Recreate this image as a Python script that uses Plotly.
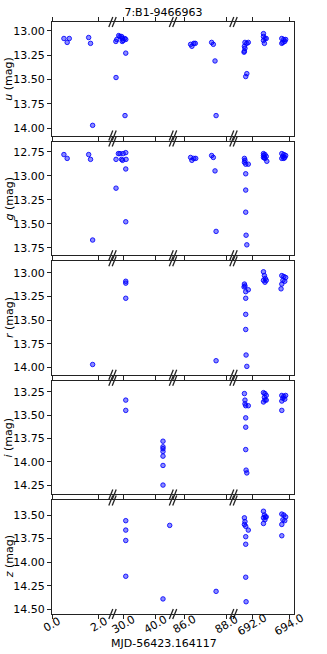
import plotly.graph_objects as go

TITLE = "7:B1-9466963"
XLABEL = "MJD-56423.164117"
BANDS = ["u", "g", "r", "i", "z"]

u_t = [0.50, 0.64, 0.73, 1.56, 1.64, 1.73,
       27.6, 27.9, 28.5, 28.9, 29.4, 29.7, 29.6, 29.9, 30.4, 30.7, 27.66, 30.7, 30.47,
       86.30, 86.36, 86.45, 86.52, 87.29, 87.37, 87.45, 87.50,
       691.60, 691.70, 691.78, 691.57, 691.60, 691.57, 691.55, 691.70, 691.64,
       692.60, 692.60, 692.68, 692.60, 692.75, 692.65,
       693.59, 693.70, 693.80, 693.65, 693.59, 693.75]
u_mag = [13.08, 13.12, 13.08, 13.07, 13.13, 13.97,
         13.11, 13.09, 13.05, 13.06, 13.06, 13.08, 13.11, 13.10, 13.08, 13.09, 13.48, 13.23, 13.87,
         13.14, 13.16, 13.13, 13.13, 13.12, 13.14, 13.31, 13.87,
         13.12, 13.13, 13.12, 13.16, 13.18, 13.21, 13.22, 13.44, 13.47,
         13.03, 13.06, 13.08, 13.10, 13.08, 13.13,
         13.08, 13.09, 13.09, 13.12, 13.13, 13.11]

g_t = [0.50, 0.64, 1.56, 1.64, 1.73,
       27.66, 28.4, 28.9, 29.4, 29.9, 29.7, 30.7, 30.8, 30.7, 27.66, 30.7,
       86.30, 86.36, 86.45, 86.54, 87.29, 87.37, 87.45, 87.50,
       691.57, 691.60, 691.57, 691.64, 691.78, 691.64, 691.64, 691.64, 691.66, 691.70,
       692.60, 692.68, 692.60, 692.75, 692.65, 692.68, 692.78, 692.60,
       693.59, 693.70, 693.80, 693.65, 693.75, 693.59, 693.70]
g_mag = [12.78, 12.82, 12.78, 12.83, 13.67,
         12.83, 12.77, 12.77, 12.83, 12.77, 12.84, 12.76, 12.83, 12.93, 13.13, 13.48,
         12.81, 12.84, 12.82, 12.82, 12.79, 12.81, 12.95, 13.58,
         12.82, 12.84, 12.86, 12.88, 12.88, 12.98, 13.15, 13.38, 13.62, 13.72,
         12.77, 12.78, 12.79, 12.80, 12.81, 12.82, 12.85, 12.81,
         12.77, 12.78, 12.79, 12.80, 12.81, 12.82, 12.82]

r_t = [1.73, 30.7, 30.7, 30.7, 87.50,
       691.57, 691.60, 691.55, 691.64, 691.78, 691.64, 691.64, 691.64, 691.66, 691.70,
       692.60, 692.65, 692.70, 692.60, 692.75, 692.68,
       693.59, 693.70, 693.80, 693.65, 693.75, 693.59, 693.55]
r_mag = [13.97, 13.09, 13.11, 13.27, 13.93,
         13.12, 13.14, 13.15, 13.20, 13.18, 13.27, 13.44, 13.60, 13.87, 13.99,
         12.99, 13.03, 13.06, 13.08, 13.08, 13.10,
         13.03, 13.04, 13.05, 13.08, 13.09, 13.12, 13.17]

i_t = [30.7, 30.7, 42.34, 42.34, 42.34, 42.34, 42.34, 42.34, 42.34,
       691.57, 691.60, 691.60, 691.64, 691.78, 691.64, 691.64, 691.64, 691.66, 691.70,
       692.60, 692.68, 692.75, 692.65, 692.68, 692.60, 692.75,
       693.59, 693.70, 693.80, 693.65, 693.75, 693.59, 693.59]
i_mag = [13.34, 13.45, 13.78, 13.84, 13.86, 13.89, 13.94, 14.04, 14.25,
         13.27, 13.34, 13.38, 13.40, 13.40, 13.53, 13.63, 13.87, 14.09, 14.12,
         13.26, 13.27, 13.29, 13.31, 13.34, 13.36, 13.34,
         13.29, 13.30, 13.29, 13.32, 13.33, 13.35, 13.45]

z_t = [30.7, 30.7, 30.7, 30.7, 42.34, 44.44, 87.50,
       691.57, 691.60, 691.57, 691.64, 691.78, 691.64, 691.64, 691.64, 691.66,
       692.60, 692.65, 692.70, 692.60, 692.75, 692.68, 692.60,
       693.59, 693.70, 693.80, 693.65, 693.75, 693.59, 693.59]
z_mag = [13.56, 13.66, 13.77, 14.15, 14.39, 13.61, 14.31,
         13.53, 13.57, 13.60, 13.62, 13.66, 13.73, 13.81, 14.16, 14.42,
         13.46, 13.50, 13.52, 13.53, 13.52, 13.55, 13.59,
         13.49, 13.50, 13.52, 13.55, 13.56, 13.60, 13.72]

TIMES = [u_t, g_t, r_t, i_t, z_t]
MAGS = [u_mag, g_mag, r_mag, i_mag, z_mag]

SEG_RANGES = [(-0.01, 2.58), (26.56, 45.47), (85.47, 88.32), (690.98, 694.25)]
SEG_TICKS = [[0.0, 2.0], [30.0, 40.0], [86.0, 88.0], [692.0, 694.0]]
Y_RANGES = [(12.911, 14.075), (12.645, 13.828), (12.878, 14.079), (13.133, 14.35), (13.345, 14.55)]

# ---- geometry (pixels) ----
W, H = 327, 654
L, R, T, B = 52, 294, 22, 614
PANEL_H, GAP = 113.6, 6.0
FONT = "DejaVu Sans"
LINEC = "#222222"


def px2paper(px):
    return (px - L) / (R - L)


def py2paper(py):
    return (B - py) / (B - T)


fig = go.Figure()
layout = dict(
    width=W, height=H,
    margin=dict(l=L, r=W - R, t=T, b=H - B),
    paper_bgcolor="white", plot_bgcolor="white",
    showlegend=False,
    font=dict(family=FONT, size=11, color="black"),
    title=dict(text=TITLE, x=0.5, xref="container", xanchor="center",
               y=1 - 12 / H, yref="container", yanchor="middle",
               font=dict(family=FONT, size=11, color="black")),
)
annotations = []
shapes = []
NC = len(SEG_RANGES)

for r in range(len(BANDS)):
    top = T + r * (PANEL_H + GAP)
    bot = top + PANEL_H
    ydom = [py2paper(bot), py2paper(top)]
    lo, hi = Y_RANGES[r]
    for c in range(NC):
        k = r * NC + c + 1
        xname = "xaxis" if k == 1 else f"xaxis{k}"
        yname = "yaxis" if k == 1 else f"yaxis{k}"
        xref = "x" if k == 1 else f"x{k}"
        yref = "y" if k == 1 else f"y{k}"
        fig.add_trace(go.Scatter(
            x=TIMES[r], y=MAGS[r], mode="markers", xaxis=xref, yaxis=yref,
            marker=dict(size=4.5, color="rgba(0,0,255,0.45)",
                        line=dict(color="rgba(0,0,255,0.85)", width=1)),
            hoverinfo="x+y"))
        layout[xname] = dict(
            domain=[c / NC, (c + 1) / NC], anchor=yref,
            range=list(SEG_RANGES[c]), tickmode="array", tickvals=SEG_TICKS[c],
            showticklabels=False, ticks="outside", ticklen=4, tickwidth=1,
            tickcolor=LINEC, showline=True, linecolor=LINEC, linewidth=1,
            mirror="ticks", showgrid=False, zeroline=False)
        ax = dict(domain=ydom, anchor=xref, range=[hi, lo],
                  showgrid=False, zeroline=False)
        if c == 0:
            ax.update(tickmode="linear", tick0=0, dtick=0.25, tickformat=".2f",
                      ticks="outside", ticklen=4, tickwidth=1, tickcolor=LINEC,
                      showline=True, linecolor=LINEC, linewidth=1,
                      tickfont=dict(family=FONT, size=11, color="black"))
        elif c == NC - 1:
            ax.update(side="right", showline=True, linecolor=LINEC, linewidth=1,
                      ticks="", showticklabels=False)
        else:
            ax.update(showline=False, ticks="", showticklabels=False)
        layout[yname] = ax

    # y-axis label
    annotations.append(dict(
        text=f"<i>{BANDS[r]}</i> (mag)", xref="paper", yref="paper",
        x=px2paper(9), y=(ydom[0] + ydom[1]) / 2, textangle=-90,
        showarrow=False, xanchor="center", yanchor="middle",
        font=dict(family=FONT, size=11, color="black")))

    # break marks on top and bottom spines
    for cb in range(1, NC):
        xb = L + cb * (R - L) / NC
        for ys in (top, bot):
            for dx in (-1.7, 1.7):
                shapes.append(dict(
                    type="line", xref="paper", yref="paper",
                    x0=px2paper(xb + dx - 2), y0=py2paper(ys + 5),
                    x1=px2paper(xb + dx + 2), y1=py2paper(ys - 5),
                    line=dict(color=LINEC, width=1.3)))

# x tick labels on the bottom row (rotated, centred on ticks)
last = len(BANDS) - 1
for c in range(NC):
    k = last * NC + c + 1
    xref = f"x{k}"
    for v in SEG_TICKS[c]:
        annotations.append(dict(
            text=f"{v:.1f}", x=v, xref=xref, y=py2paper(624), yref="paper",
            textangle=-30, showarrow=False, xanchor="center", yanchor="middle",
            font=dict(family=FONT, size=11, color="black")))

annotations.append(dict(
    text=XLABEL, xref="paper", yref="paper", x=px2paper(163.5), y=py2paper(643),
    showarrow=False, xanchor="center", yanchor="middle",
    font=dict(family=FONT, size=11, color="black")))

layout["annotations"] = annotations
layout["shapes"] = shapes
fig.update_layout(**layout)
fig.write_html("out.html",
               config={"displayModeBar": False},
               post_script="document.body.style.margin='0';document.body.style.overflow='hidden';")
